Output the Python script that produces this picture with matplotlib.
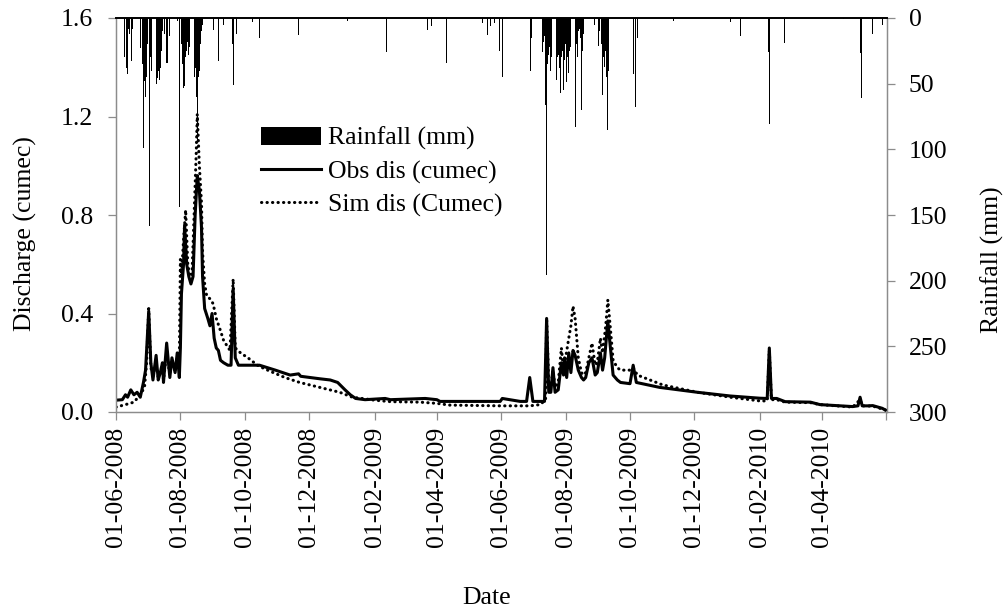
import pandas as pd
import matplotlib
matplotlib.use('Agg')
import matplotlib.pyplot as plt

plt.rcParams['font.family'] = ['Liberation Serif', 'DejaVu Serif']
FS = 18.5
AXIS_GREY = '#8c8c8c'

# observed daily discharge (cumec)
obs_dates = [
    '2008-06-01', '2008-06-07', '2008-06-10', '2008-06-12', '2008-06-15', '2008-06-18',
    '2008-06-21', '2008-06-24', '2008-06-27', '2008-06-29', '2008-07-02', '2008-07-04',
    '2008-07-06', '2008-07-09', '2008-07-11', '2008-07-13', '2008-07-15', '2008-07-16',
    '2008-07-19', '2008-07-22', '2008-07-24', '2008-07-27', '2008-07-29', '2008-07-31',
    '2008-08-01', '2008-08-02', '2008-08-04', '2008-08-05', '2008-08-07', '2008-08-09',
    '2008-08-11', '2008-08-13', '2008-08-15', '2008-08-17', '2008-08-19', '2008-08-21',
    '2008-08-22', '2008-08-24', '2008-08-27', '2008-08-29', '2008-08-31', '2008-09-02',
    '2008-09-04', '2008-09-06', '2008-09-08', '2008-09-11', '2008-09-15', '2008-09-18',
    '2008-09-20', '2008-09-22', '2008-09-25', '2008-10-06', '2008-10-15', '2008-10-30',
    '2008-11-13', '2008-11-21', '2008-11-23', '2008-12-11', '2008-12-21', '2008-12-28',
    '2009-01-04', '2009-01-09', '2009-01-14', '2009-01-23', '2009-02-11', '2009-02-16',
    '2009-03-21', '2009-04-01', '2009-04-04', '2009-05-31', '2009-06-02', '2009-06-19',
    '2009-06-25', '2009-06-28', '2009-07-01', '2009-07-12', '2009-07-14', '2009-07-16',
    '2009-07-18', '2009-07-20', '2009-07-22', '2009-07-25', '2009-07-28', '2009-07-30',
    '2009-07-31', '2009-08-02', '2009-08-04', '2009-08-06', '2009-08-08', '2009-08-10',
    '2009-08-13', '2009-08-16', '2009-08-18', '2009-08-20', '2009-08-23', '2009-08-26',
    '2009-08-29', '2009-08-31', '2009-09-03', '2009-09-05', '2009-09-07', '2009-09-10',
    '2009-09-12', '2009-09-15', '2009-09-19', '2009-09-22', '2009-10-01', '2009-10-04',
    '2009-10-07', '2009-10-29', '2009-12-04', '2010-01-04', '2010-02-01', '2010-02-08',
    '2010-02-10', '2010-02-12', '2010-02-17', '2010-02-25', '2010-03-21', '2010-03-30',
    '2010-04-30', '2010-05-05', '2010-05-07', '2010-05-09', '2010-05-15', '2010-05-19',
    '2010-05-24', '2010-05-28', '2010-05-31',
]
obs_q = [
    0.048, 0.05, 0.07, 0.06, 0.09, 0.07,
    0.08, 0.06, 0.12, 0.17, 0.41, 0.20,
    0.13, 0.23, 0.13, 0.16, 0.20, 0.12,
    0.28, 0.14, 0.22, 0.16, 0.24, 0.14,
    0.26, 0.48, 0.60, 0.76, 0.60, 0.55,
    0.52, 0.55, 0.80, 0.96, 0.90, 0.75,
    0.55, 0.42, 0.38, 0.35, 0.40, 0.30,
    0.26, 0.25, 0.21, 0.20, 0.19, 0.19,
    0.50, 0.22, 0.19, 0.19, 0.19, 0.17,
    0.15, 0.155, 0.145, 0.135, 0.13, 0.12,
    0.09, 0.07, 0.055, 0.05, 0.055, 0.05,
    0.055, 0.05, 0.043, 0.043, 0.055, 0.043,
    0.043, 0.14, 0.043, 0.043, 0.38, 0.08,
    0.08, 0.18, 0.08, 0.09, 0.20, 0.15,
    0.22, 0.14, 0.24, 0.16, 0.25, 0.23,
    0.17, 0.14, 0.13, 0.14, 0.20, 0.22,
    0.15, 0.16, 0.24, 0.17, 0.22, 0.37,
    0.28, 0.15, 0.13, 0.12, 0.115, 0.19,
    0.12, 0.10, 0.08, 0.065, 0.056, 0.055,
    0.26, 0.055, 0.055, 0.042, 0.04, 0.03,
    0.022, 0.025, 0.06, 0.025, 0.025, 0.026,
    0.02, 0.015, 0.008,
]

# simulated daily discharge (cumec)
sim_dates = [
    '2008-06-01', '2008-06-10', '2008-06-18', '2008-06-24', '2008-06-28', '2008-06-30',
    '2008-07-02', '2008-07-04', '2008-07-06', '2008-07-09', '2008-07-11', '2008-07-15',
    '2008-07-16', '2008-07-19', '2008-07-22', '2008-07-24', '2008-07-27', '2008-07-29',
    '2008-07-31', '2008-08-01', '2008-08-02', '2008-08-04', '2008-08-06', '2008-08-08',
    '2008-08-10', '2008-08-12', '2008-08-14', '2008-08-16', '2008-08-17', '2008-08-19',
    '2008-08-21', '2008-08-22', '2008-08-24', '2008-08-26', '2008-08-29', '2008-09-01',
    '2008-09-04', '2008-09-08', '2008-09-11', '2008-09-14', '2008-09-17', '2008-09-20',
    '2008-09-22', '2008-09-27', '2008-10-04', '2008-10-13', '2008-10-20', '2008-10-28',
    '2008-11-08', '2008-11-22', '2008-12-11', '2008-12-30', '2009-01-11', '2009-01-20',
    '2009-02-01', '2009-02-16', '2009-03-16', '2009-04-01', '2009-04-13', '2009-05-31',
    '2009-06-28', '2009-07-08', '2009-07-13', '2009-07-14', '2009-07-16', '2009-07-18',
    '2009-07-20', '2009-07-22', '2009-07-25', '2009-07-28', '2009-07-30', '2009-08-01',
    '2009-08-04', '2009-08-06', '2009-08-08', '2009-08-10', '2009-08-13', '2009-08-16',
    '2009-08-18', '2009-08-20', '2009-08-23', '2009-08-26', '2009-08-29', '2009-08-31',
    '2009-09-03', '2009-09-05', '2009-09-08', '2009-09-10', '2009-09-12', '2009-09-15',
    '2009-09-19', '2009-09-22', '2009-10-01', '2009-10-04', '2009-10-08', '2009-10-20',
    '2009-11-01', '2009-12-04', '2010-01-04', '2010-02-01', '2010-02-08', '2010-02-10',
    '2010-02-12', '2010-02-17', '2010-02-25', '2010-03-21', '2010-03-30', '2010-04-30',
    '2010-05-07', '2010-05-09', '2010-05-19', '2010-05-31',
]
sim_q = [
    0.02, 0.03, 0.04, 0.07, 0.10, 0.20,
    0.42, 0.18, 0.15, 0.20, 0.14, 0.19,
    0.13, 0.24, 0.15, 0.20, 0.17, 0.22,
    0.20, 0.62, 0.55, 0.70, 0.82, 0.60,
    0.55, 0.56, 0.80, 1.05, 1.21, 1.00,
    0.85, 0.65, 0.52, 0.47, 0.46, 0.44,
    0.38, 0.33, 0.29, 0.27, 0.25, 0.54,
    0.26, 0.24, 0.22, 0.19, 0.175, 0.16,
    0.14, 0.12, 0.10, 0.08, 0.06, 0.055,
    0.048, 0.042, 0.04, 0.035, 0.028, 0.025,
    0.025, 0.03, 0.05, 0.38, 0.12, 0.10,
    0.17, 0.10, 0.12, 0.26, 0.17, 0.22,
    0.30, 0.35, 0.43, 0.38, 0.22, 0.16,
    0.15, 0.16, 0.22, 0.28, 0.19, 0.20,
    0.30, 0.24, 0.35, 0.455, 0.36, 0.21,
    0.18, 0.17, 0.17, 0.18, 0.15, 0.13,
    0.11, 0.08, 0.06, 0.045, 0.045, 0.25,
    0.05, 0.05, 0.04, 0.038, 0.03, 0.02,
    0.05, 0.025, 0.024, 0.008,
]

# daily rainfall (mm), rain days only
rain_dates = [
    '2008-06-02', '2008-06-09', '2008-06-11', '2008-06-12', '2008-06-13', '2008-06-14',
    '2008-06-16', '2008-06-17', '2008-06-19', '2008-06-24', '2008-06-26', '2008-06-27',
    '2008-06-28', '2008-06-29', '2008-06-30', '2008-07-01', '2008-07-03', '2008-07-04',
    '2008-07-05', '2008-07-06', '2008-07-07', '2008-07-08', '2008-07-09', '2008-07-10',
    '2008-07-11', '2008-07-12', '2008-07-13', '2008-07-14', '2008-07-15', '2008-07-17',
    '2008-07-19', '2008-07-20', '2008-07-22', '2008-07-26', '2008-07-29', '2008-07-31',
    '2008-08-02', '2008-08-03', '2008-08-04', '2008-08-05', '2008-08-06', '2008-08-07',
    '2008-08-08', '2008-08-09', '2008-08-10', '2008-08-11', '2008-08-12', '2008-08-13',
    '2008-08-14', '2008-08-15', '2008-08-16', '2008-08-17', '2008-08-18', '2008-08-19',
    '2008-08-20', '2008-08-21', '2008-08-22', '2008-08-29', '2008-09-01', '2008-09-06',
    '2008-09-11', '2008-09-19', '2008-09-20', '2008-09-23', '2008-10-08', '2008-10-15',
    '2008-11-21', '2009-01-06', '2009-02-12', '2009-03-23', '2009-03-27', '2009-04-10',
    '2009-05-14', '2009-05-19', '2009-05-22', '2009-05-26', '2009-05-30', '2009-06-02',
    '2009-06-14', '2009-06-29', '2009-06-30',
    '2009-07-10', '2009-07-11', '2009-07-12', '2009-07-13', '2009-07-14', '2009-07-15',
    '2009-07-16', '2009-07-17', '2009-07-18', '2009-07-19', '2009-07-20', '2009-07-21',
    '2009-07-22', '2009-07-23', '2009-07-24', '2009-07-25', '2009-07-26', '2009-07-27',
    '2009-07-28', '2009-07-29', '2009-07-30', '2009-07-31', '2009-08-01', '2009-08-02',
    '2009-08-03', '2009-08-04', '2009-08-05', '2009-08-06', '2009-08-07', '2009-08-08',
    '2009-08-09', '2009-08-10', '2009-08-11', '2009-08-12', '2009-08-13', '2009-08-14',
    '2009-08-15', '2009-08-16', '2009-08-17', '2009-08-18', '2009-08-26', '2009-08-27',
    '2009-08-28', '2009-09-01', '2009-09-02', '2009-09-04', '2009-09-05', '2009-09-06',
    '2009-09-07', '2009-09-08', '2009-09-09', '2009-09-10', '2009-09-11', '2009-09-12',
    '2009-10-01', '2009-10-04', '2009-10-06', '2009-10-08', '2009-11-11', '2010-01-04',
    '2010-01-14', '2010-02-09', '2010-02-10', '2010-02-24', '2010-04-21', '2010-05-07',
    '2010-05-08', '2010-05-19', '2010-05-24', '2010-05-28',
]
rain_mm = [
    5, 30, 38, 43, 8, 12,
    33, 8, 66, 23, 35, 99,
    48, 60, 45, 20, 158, 30,
    40, 52, 45, 35, 50, 46,
    40, 47, 38, 25, 10, 12,
    34, 34, 14, 83, 2, 144,
    20, 35, 53, 52, 30, 25,
    18, 28, 22, 35, 40, 30,
    45, 38, 60, 95, 45, 40,
    20, 10, 5, 46, 9, 33,
    5, 20, 51, 12, 3, 15,
    13, 2, 26, 9, 6, 34,
    4, 13, 6, 4, 25, 45,
    5, 40, 15,
    26, 18, 14, 66, 196, 35,
    28, 22, 40, 30, 84, 35,
    25, 47, 30, 28, 38, 57,
    30, 25, 55, 32, 20, 49,
    30, 42, 25, 22, 35, 98,
    30, 83, 20, 30, 10, 8,
    15, 70, 25, 12, 59, 18,
    5, 21, 10, 20, 59, 30,
    37, 25, 45, 85, 40, 26,
    5, 43, 68, 15, 2, 3,
    14, 26, 81, 19, 1, 27,
    61, 12, 7, 5,
]

tick_dates = [
    '2008-06-01', '2008-08-01', '2008-10-01', '2008-12-01', '2009-02-01', '2009-04-01',
    '2009-06-01', '2009-08-01', '2009-10-01', '2009-12-01', '2010-02-01', '2010-04-01',
    '2010-06-01',
]
tick_labels = [
    '01-06-2008', '01-08-2008', '01-10-2008', '01-12-2008', '01-02-2009', '01-04-2009',
    '01-06-2009', '01-08-2009', '01-10-2009', '01-12-2009', '01-02-2010', '01-04-2010',
    '',
]

fig = plt.figure(figsize=(10.08, 6.09), dpi=100)
ax = fig.add_axes([116 / 1008, 1 - 412 / 609, 771 / 1008, 394 / 609])
ax2 = ax.twinx()

# rainfall hangs from the top on a reversed axis
bars = ax2.bar(pd.to_datetime(rain_dates), rain_mm, width=0.8, color='black',
               linewidth=0, label='Rainfall (mm)')
ax2.set_ylim(300, 0)
ax2.set_yticks([0, 50, 100, 150, 200, 250, 300])

# discharge lines drawn above the bars
ax.set_zorder(ax2.get_zorder() + 1)
ax.patch.set_visible(False)
l1, = ax.plot(pd.to_datetime(obs_dates), obs_q, color='black', lw=2.2,
              solid_joinstyle='round', label='Obs dis (cumec)')
l2, = ax.plot(pd.to_datetime(sim_dates), sim_q, color='black', lw=2.2,
              linestyle=(0, (0.1, 1.7)), dash_capstyle='round', label='Sim dis (Cumec)')

ax.set_ylim(0, 1.6)
ax.set_yticks([0.0, 0.4, 0.8, 1.2, 1.6])
ax.yaxis.set_major_formatter(matplotlib.ticker.FormatStrFormatter('%.1f'))
ax.set_xlim(pd.Timestamp('2008-06-01'), pd.Timestamp('2010-06-01 12:00'))
ax.set_xticks(pd.to_datetime(tick_dates))
ax.set_xticklabels(tick_labels, rotation=90)

for a in (ax, ax2):
    for side in ('left', 'right', 'bottom'):
        a.spines[side].set_color(AXIS_GREY)
        a.spines[side].set_linewidth(0.9)
    a.tick_params(colors=AXIS_GREY, labelcolor='black', width=0.9, length=5.5,
                  labelsize=FS)
ax2.spines['top'].set_visible(False)
ax.spines['top'].set_color('black')
ax.spines['top'].set_linewidth(1.4)
ax.tick_params(axis='y', pad=11)
ax.tick_params(axis='x', pad=5)
ax2.tick_params(axis='y', pad=10)

ax.set_ylabel('Discharge (cumec)', fontsize=FS)
ax.yaxis.set_label_coords(-0.1025, 0.452)
ax2.set_ylabel('Rainfall (mm)', fontsize=FS)
ax2.yaxis.set_label_coords(1.122, 0.386)
ax.set_xlabel('Date', fontsize=FS)
ax.xaxis.set_label_coords(0.481, -0.444)

ax.legend([bars, l1, l2], ['Rainfall (mm)', 'Obs dis (cumec)', 'Sim dis (Cumec)'],
          loc='upper left', bbox_to_anchor=(261 / 1008, 1 - 127 / 609),
          bbox_transform=fig.transFigure, frameon=False, fontsize=FS,
          handlelength=2.35, handletextpad=0.25, labelspacing=0.38,
          borderpad=0, borderaxespad=0)

fig.savefig('out.png', dpi=100)
